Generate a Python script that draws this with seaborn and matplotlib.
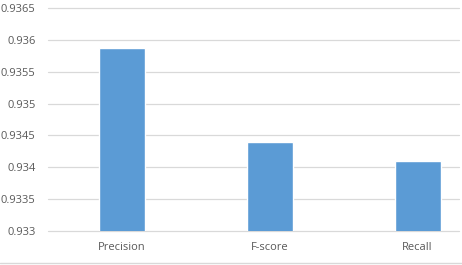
import matplotlib
matplotlib.use("Agg")
import matplotlib.pyplot as plt
import seaborn as sns
import pandas as pd
from matplotlib.lines import Line2D

categories = ["Precision", "F-score", "Recall"]
values = [0.93588, 0.93439, 0.93410]
yticks = [0.933, 0.9335, 0.934, 0.9345, 0.935, 0.9355, 0.936, 0.9365]
ytick_labels = ["0.933", "0.9335", "0.934", "0.9345", "0.935", "0.9355", "0.936", "0.9365"]

sns.set_theme(style="white")
plt.rcParams["font.family"] = ["Open Sans", "DejaVu Sans"]

df = pd.DataFrame({"metric": categories, "value": values})

fig = plt.figure(figsize=(4.62, 2.65), dpi=100)
ax = fig.add_axes([48 / 462, (265 - 231) / 265, (459 - 48) / 462, (231 - 8) / 265])

sns.barplot(data=df, x="metric", y="value", color="#5B9BD5", saturation=1,
            width=0.31, ax=ax, zorder=3)

ax.set_ylim(0.933, 0.9365)
ax.set_xlim(-0.5, 2.28)
ax.set_yticks(yticks)
ax.set_yticklabels(ytick_labels)
ax.yaxis.grid(True, color="#D9D9D9", linewidth=0.9, zorder=0)
for gl in ax.get_ygridlines():
    gl.set_clip_on(False)
ax.set_axisbelow(True)
for s in ax.spines.values():
    s.set_visible(False)
ax.tick_params(axis="both", length=0, labelsize=8, labelcolor="#595959")
ax.tick_params(axis="x", pad=8)
ax.tick_params(axis="y", pad=9)
ax.set_xlabel("")
ax.set_ylabel("")

fig.add_artist(Line2D([0, 1], [2 / 265, 2 / 265], color="#D9D9D9", linewidth=1, transform=fig.transFigure))

fig.savefig("out.png", dpi=100)
